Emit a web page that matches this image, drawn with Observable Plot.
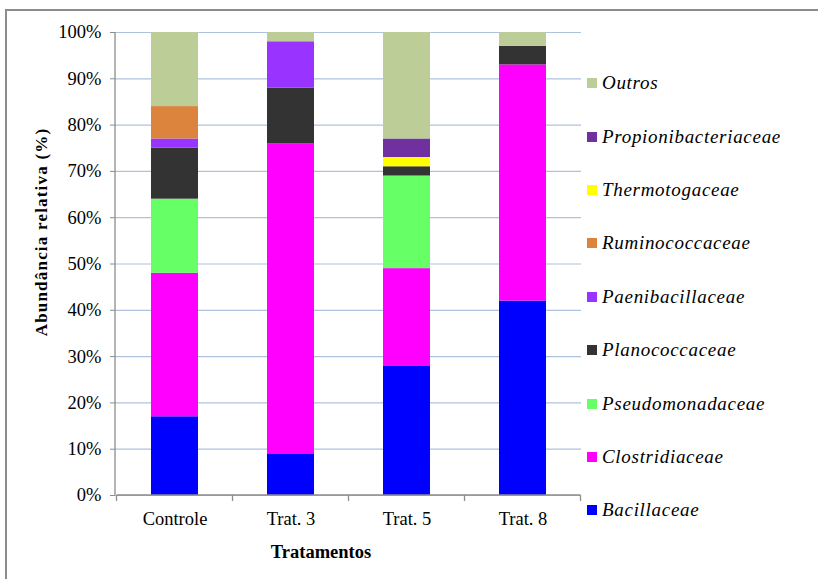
<!DOCTYPE html>
<html>
<head>
<meta charset="utf-8">
<script src="https://cdn.jsdelivr.net/npm/d3@7"></script>
<script src="https://cdn.jsdelivr.net/npm/@observablehq/plot@0.6"></script>
<style>
  html, body { margin: 0; padding: 0; background: #fff; overflow: hidden; }
  #wrap { position: relative; width: 818px; height: 579px; font-family: "Liberation Serif", "Times New Roman", serif; }
  #frame { position: absolute; left: 5px; top: 9px; width: 900px; height: 700px; border: 2px solid #8c8c8c; box-sizing: border-box; }
  #chart { position: absolute; left: 0; top: 0; }
  .ytitle { position: absolute; left: 42px; top: 232px; transform: translate(-50%, -50%) rotate(-90deg); font-weight: bold; font-size: 17px; letter-spacing: 1.2px; white-space: nowrap; }
  .xtitle { position: absolute; left: 321px; top: 552px; transform: translate(-50%, -50%); font-weight: bold; font-size: 18.5px; white-space: nowrap; }
  #legend { position: absolute; left: 587px; top: 56.6px; }
  .item { height: 53.4px; display: flex; align-items: center; }
  .sw { width: 10px; height: 10px; margin-right: 5px; flex: none; }
  .lab { font-style: italic; font-size: 19px; letter-spacing: 0.7px; white-space: nowrap; }
</style>
</head>
<body>
<div id="wrap">
  <div id="frame"></div>
  <div id="chart"></div>
  <div class="ytitle">Abundância relativa (%)</div>
  <div class="xtitle">Tratamentos</div>
  <div id="legend"></div>
</div>
<script>
// ---- data ----
const categories = ["Controle", "Trat. 3", "Trat. 5", "Trat. 8"];
const families = ["Bacillaceae", "Clostridiaceae", "Pseudomonadaceae", "Planococcaceae",
  "Paenibacillaceae", "Ruminococcaceae", "Thermotogaceae", "Propionibacteriaceae", "Outros"];
const bacillaceae          = [17,  9, 28, 42];
const clostridiaceae       = [31, 67, 21, 51];
const pseudomonadaceae     = [16,  0, 20,  0];
const planococcaceae       = [11, 12,  2,  4];
const paenibacillaceae     = [ 2, 10,  0,  0];
const ruminococcaceae      = [ 7,  0,  0,  0];
const thermotogaceae       = [ 0,  0,  2,  0];
const propionibacteriaceae = [ 0,  0,  4,  0];
const outros               = [16,  2, 23,  3];
const yTicks = [0, 10, 20, 30, 40, 50, 60, 70, 80, 90, 100];
const colors = ["#0000ff", "#ff00ff", "#66ff66", "#333333", "#9933ff", "#dc843e", "#ffff00", "#7030a0", "#bccd98"];

const series = [bacillaceae, clostridiaceae, pseudomonadaceae, planococcaceae, paenibacillaceae,
  ruminococcaceae, thermotogaceae, propionibacteriaceae, outros];
const data = families.flatMap((f, i) => categories.map((c, j) => ({cat: c, fam: f, v: series[i][j]})));

function axisLines(index, scales, values, dims) {
  const {width, height, marginLeft, marginRight, marginTop, marginBottom} = dims;
  const x = scales.x;
  const bw = x.bandwidth ? x.bandwidth() : 0;
  const centers = categories.map(d => x(d) + bw / 2);
  const step = centers[1] - centers[0];
  const bounds = [centers[0] - step / 2, ...centers.map(c => c + step / 2)];
  const yb = height - marginBottom;
  const g = d3.create("svg:g").attr("stroke", "#8c8c8c").attr("fill", "none").attr("stroke-width", 1.3);
  g.append("line").attr("x1", marginLeft).attr("x2", marginLeft).attr("y1", marginTop).attr("y2", yb);
  g.append("line").attr("x1", bounds[0]).attr("x2", bounds[bounds.length - 1]).attr("y1", yb).attr("y2", yb);
  bounds.forEach(b => g.append("line").attr("x1", b).attr("x2", b).attr("y1", yb).attr("y2", yb + 6));
  return g.node();
}

const chart = Plot.plot({
  width: 818,
  height: 579,
  marginLeft: 115,
  marginRight: 237,
  marginTop: 32,
  marginBottom: 84,
  style: {fontFamily: "'Liberation Serif', 'Times New Roman', serif", fontSize: "18.5px", background: "transparent", color: "#000"},
  x: {domain: categories, paddingInner: 0.597, paddingOuter: 0.3, label: null},
  y: {domain: [0, 100], label: null},
  color: {domain: families, range: colors},
  marks: [
    Plot.gridY(yTicks, {stroke: "#aec2de", strokeOpacity: 1, strokeWidth: 1.2}),
    Plot.barY(data, {x: "cat", y: "v", fill: "fam", order: families}),
    Plot.axisY(yTicks, {tickSize: 5, tickPadding: 9, tickFormat: d => d + "%", stroke: "#8c8c8c", label: null}),
    Plot.axisX({tickSize: 0, tickPadding: 16, label: null}),
    axisLines
  ]
});
document.getElementById("chart").appendChild(chart);

const legend = document.getElementById("legend");
families.slice().reverse().forEach(f => {
  const i = families.indexOf(f);
  const item = document.createElement("div");
  item.className = "item";
  item.innerHTML = `<div class="sw" style="background:${colors[i]}"></div><div class="lab">${f}</div>`;
  legend.appendChild(item);
});
</script>
</body>
</html>
